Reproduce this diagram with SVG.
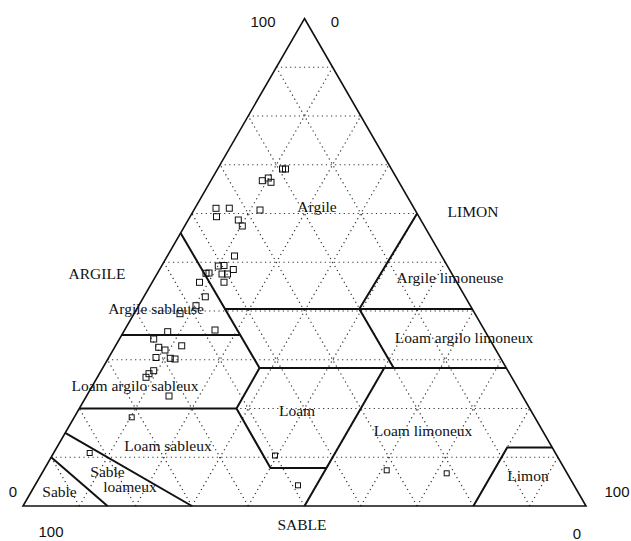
<svg xmlns="http://www.w3.org/2000/svg" width="631" height="541" viewBox="0 0 631 541">
<style>
.bg{fill:#ffffff}
.grid line{stroke:#333;stroke-width:1.2;stroke-dasharray:1.2 3.4;fill:none}
.outline{fill:none;stroke:#111;stroke-width:1.6;stroke-linejoin:miter}
.bnd line,.bnd polyline{stroke:#111;stroke-width:2;fill:none;stroke-linejoin:miter}
.pt rect{fill:none;stroke:#111;stroke-width:1}
.lbl{font-family:"Liberation Serif","Times New Roman",serif;font-size:15.5px;fill:#111;text-anchor:middle}
.num{font-family:"Liberation Sans",Arial,sans-serif;font-size:15px;fill:#111;text-anchor:middle}
</style>
<rect class="bg" x="0" y="0" width="631" height="541"/>
<g id="grid" class="grid">
<line x1="51.15" y1="457.25" x2="557.85" y2="457.25"/>
<line x1="79.3" y1="408.5" x2="529.7" y2="408.5"/>
<line x1="107.45" y1="359.75" x2="501.55" y2="359.75"/>
<line x1="135.6" y1="311" x2="473.4" y2="311"/>
<line x1="163.75" y1="262.25" x2="445.25" y2="262.25"/>
<line x1="191.9" y1="213.5" x2="417.1" y2="213.5"/>
<line x1="220.05" y1="164.75" x2="388.95" y2="164.75"/>
<line x1="248.2" y1="116" x2="360.8" y2="116"/>
<line x1="276.35" y1="67.25" x2="332.65" y2="67.25"/>
<line x1="79.3" y1="506" x2="332.65" y2="67.25"/>
<line x1="135.6" y1="506" x2="360.8" y2="116"/>
<line x1="191.9" y1="506" x2="388.95" y2="164.75"/>
<line x1="248.2" y1="506" x2="417.1" y2="213.5"/>
<line x1="304.5" y1="506" x2="445.25" y2="262.25"/>
<line x1="360.8" y1="506" x2="473.4" y2="311"/>
<line x1="417.1" y1="506" x2="501.55" y2="359.75"/>
<line x1="473.4" y1="506" x2="529.7" y2="408.5"/>
<line x1="529.7" y1="506" x2="557.85" y2="457.25"/>
<line x1="529.7" y1="506" x2="276.35" y2="67.25"/>
<line x1="473.4" y1="506" x2="248.2" y2="116"/>
<line x1="417.1" y1="506" x2="220.05" y2="164.75"/>
<line x1="360.8" y1="506" x2="191.9" y2="213.5"/>
<line x1="304.5" y1="506" x2="163.75" y2="262.25"/>
<line x1="248.2" y1="506" x2="135.6" y2="311"/>
<line x1="191.9" y1="506" x2="107.45" y2="359.75"/>
<line x1="135.6" y1="506" x2="79.3" y2="408.5"/>
<line x1="79.3" y1="506" x2="51.15" y2="457.25"/>
</g>
<polygon id="triangle" class="outline" points="304.5,18.5 586,506 23,506"/>
<g id="boundaries" class="bnd">
<line x1="180.6" y1="233" x2="259.5" y2="368"/>
<line x1="121.5" y1="335" x2="239.8" y2="335"/>
<line x1="224.6" y1="309" x2="472.3" y2="309"/>
<polyline points="417.1,213.5 359.3,309 393.7,368"/>
<line x1="259.5" y1="368" x2="506.3" y2="368"/>
<polyline points="259.5,368 236.5,408.5 270.5,468 326.2,468"/>
<line x1="79.3" y1="408.5" x2="236.5" y2="408.5"/>
<line x1="384.2" y1="368" x2="304.5" y2="506"/>
<line x1="65.2" y1="432.9" x2="191.9" y2="506"/>
<line x1="51.2" y1="457.25" x2="107.5" y2="506"/>
<polyline points="552.2,447.5 507.2,447.5 473.4,506"/>
</g>
<g id="points" class="pt">
<rect x="279.5" y="166" width="6" height="6"/>
<rect x="282.5" y="166" width="6" height="6"/>
<rect x="259.3" y="177.7" width="6" height="6"/>
<rect x="265.3" y="175" width="6" height="6"/>
<rect x="268" y="179.3" width="6" height="6"/>
<rect x="213" y="205.3" width="6" height="6"/>
<rect x="213.5" y="213.7" width="6" height="6"/>
<rect x="226.3" y="205.2" width="6" height="6"/>
<rect x="257" y="207" width="6" height="6"/>
<rect x="235.3" y="217" width="6" height="6"/>
<rect x="239.3" y="223" width="6" height="6"/>
<rect x="231.5" y="253" width="6" height="6"/>
<rect x="215.3" y="263" width="6" height="6"/>
<rect x="221" y="262.5" width="6" height="6"/>
<rect x="230.3" y="266.5" width="6" height="6"/>
<rect x="206" y="270" width="6" height="6"/>
<rect x="203" y="270.3" width="6" height="6"/>
<rect x="219" y="271" width="6" height="6"/>
<rect x="224.5" y="271" width="6" height="6"/>
<rect x="196.5" y="279.3" width="6" height="6"/>
<rect x="221" y="279.2" width="6" height="6"/>
<rect x="202.3" y="293.8" width="6" height="6"/>
<rect x="193" y="302.7" width="6" height="6"/>
<rect x="177" y="310.7" width="6" height="6"/>
<rect x="164.7" y="328.7" width="6" height="6"/>
<rect x="212" y="327" width="6" height="6"/>
<rect x="150.7" y="336" width="6" height="6"/>
<rect x="155.7" y="344.3" width="6" height="6"/>
<rect x="162" y="347" width="6" height="6"/>
<rect x="178.7" y="342.8" width="6" height="6"/>
<rect x="153" y="354.5" width="6" height="6"/>
<rect x="167.3" y="355.3" width="6" height="6"/>
<rect x="172" y="356" width="6" height="6"/>
<rect x="150.7" y="367.7" width="6" height="6"/>
<rect x="146" y="370.7" width="6" height="6"/>
<rect x="143" y="374.3" width="6" height="6"/>
<rect x="166" y="393" width="6" height="6"/>
<rect x="129.2" y="414.8" width="5" height="5"/>
<rect x="87.2" y="450.5" width="5" height="5"/>
<rect x="272.5" y="453" width="5" height="5"/>
<rect x="295.5" y="482.8" width="5" height="5"/>
<rect x="384.2" y="467.8" width="5" height="5"/>
<rect x="444.2" y="470.8" width="5" height="5"/>
</g>
<g id="labels">
<text class="num" x="263" y="27">100</text>
<text class="num" x="335" y="27">0</text>
<text class="num" x="13" y="497">0</text>
<text class="num" x="617" y="497">100</text>
<text class="num" x="51" y="537">100</text>
<text class="num" x="577" y="539">0</text>
<text class="lbl" x="97" y="279">ARGILE</text>
<text class="lbl" x="473" y="217">LIMON</text>
<text class="lbl" x="302" y="530">SABLE</text>
<text class="lbl" x="317" y="212">Argile</text>
<text class="lbl" x="450" y="283">Argile limoneuse</text>
<text class="lbl" x="156" y="314">Argile sableuse</text>
<text class="lbl" x="464" y="343">Loam argilo limoneux</text>
<text class="lbl" x="135" y="391">Loam argilo sableux</text>
<text class="lbl" x="297" y="416">Loam</text>
<text class="lbl" x="423" y="436">Loam limoneux</text>
<text class="lbl" x="168" y="451">Loam sableux</text>
<text class="lbl" x="107.5" y="477">Sable</text>
<text class="lbl" x="130" y="492">loameux</text>
<text class="lbl" x="59.5" y="497">Sable</text>
<text class="lbl" x="528" y="481">Limon</text>
</g>
</svg>
